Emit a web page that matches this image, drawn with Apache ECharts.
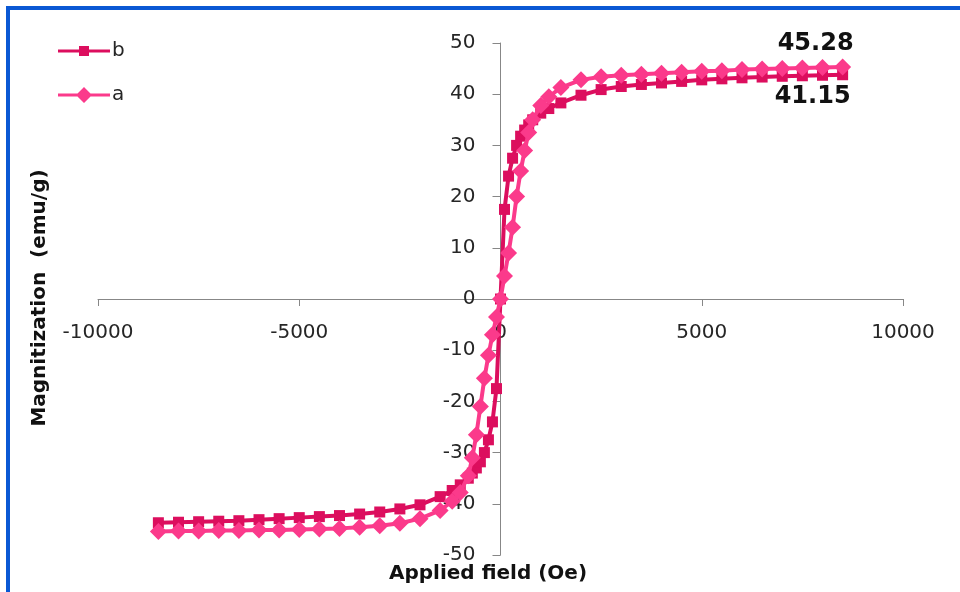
<!DOCTYPE html>
<html>
<head>
<meta charset="utf-8">
<script src="https://cdn.jsdelivr.net/npm/echarts@6/dist/echarts.min.js"></script>
<style>html,body{margin:0;padding:0;background:#fff;}#chart{width:960px;height:592px;}</style>
</head>
<body>
<div id="chart"></div>
<script>
const fieldOe = [-8500,-8000,-7500,-7000,-6500,-6000,-5500,-5000,-4500,-4000,-3500,-3000,-2500,-2000,-1500,-1200,-1000,-800,-700,-600,-500,-400,-300,-200,-100,0,100,200,300,400,500,600,700,800,1000,1200,1500,2000,2500,3000,3500,4000,4500,5000,5500,6000,6500,7000,7500,8000,8500];
const magB = [-43.7,-43.6,-43.5,-43.4,-43.3,-43.1,-42.9,-42.7,-42.5,-42.3,-42.0,-41.6,-41.0,-40.2,-38.6,-37.4,-36.3,-35.0,-34.0,-33.0,-31.8,-30.0,-27.5,-24.0,-17.5,0,17.5,24.0,27.5,30.0,31.8,33.0,34.0,35.0,36.3,37.2,38.3,39.8,40.9,41.5,41.9,42.2,42.5,42.8,43.0,43.2,43.35,43.5,43.6,43.7,43.8];
const magA = [-45.4,-45.3,-45.3,-45.2,-45.2,-45.1,-45.1,-45.0,-44.9,-44.8,-44.6,-44.3,-43.8,-42.9,-41.3,-39.5,-37.8,-34.5,-31.0,-26.5,-21.0,-15.5,-11.0,-7.0,-3.5,0,4.5,9.0,14.0,20.0,25.0,29.0,32.5,35.0,37.8,39.5,41.3,42.8,43.4,43.7,43.9,44.1,44.3,44.5,44.6,44.8,44.9,45.0,45.1,45.2,45.3];
const seriesNames = ['b', 'a'];
const endLabelB = '41.15';
const endLabelA = '45.28';
const xTicks = [-10000, -5000, 0, 5000, 10000];
const yTicks = [-50, -40, -30, -20, -10, 0, 10, 20, 30, 40, 50];

const colorB = '#dc0e5e';
const colorA = '#fb3a8b';

function build(vals, endText, labelOpt) {
  return fieldOe.map((x, i) => {
    if (i === fieldOe.length - 1) {
      return { value: [x, vals[i]], label: Object.assign({ show: true, formatter: endText }, labelOpt) };
    }
    return [x, vals[i]];
  });
}

const gridLeft = 98, gridRight = 57, gridTop = 43, gridBottom = 37;
const W = 960, H = 592;
const gridW = W - gridLeft - gridRight, gridH = H - gridTop - gridBottom;
const xMin = xTicks[0], xMax = xTicks[xTicks.length - 1];
const yMin = yTicks[0], yMax = yTicks[yTicks.length - 1];
// shift axes so they cross at the origin (labels follow the axis line)
const xAxisOffset = -gridH * (0 - yMin) / (yMax - yMin);
const yAxisOffset = -gridW * (0 - xMin) / (xMax - xMin);

// legend icons: line with square / diamond marker
const iconB = 'path://M0,6.5H21V3H31V6.5H52V9.5H31V13H21V9.5H0Z';
const iconA = 'path://M0,6.5H19.5L26,0L32.5,6.5H52V9.5H32.5L26,16L19.5,9.5H0Z';

const chart = echarts.init(document.getElementById('chart'));
const tickFont = { fontFamily: 'DejaVu Sans', fontSize: 20, color: '#262626', formatter: v => String(v) };
chart.setOption({
  animation: false,
  backgroundColor: '#ffffff',
  grid: { left: gridLeft, right: gridRight, top: gridTop, bottom: gridBottom, containLabel: false },
  legend: {
    orient: 'vertical', left: 53, top: 36, itemWidth: 52, itemHeight: 16, itemGap: 24,
    textStyle: { fontFamily: 'DejaVu Sans', fontSize: 20, color: '#262626', padding: [0,0,0,-3] },
    data: [
      { name: seriesNames[0], icon: iconB, itemStyle: { color: colorB } },
      { name: seriesNames[1], icon: iconA, itemStyle: { color: colorA } }
    ]
  },
  xAxis: {
    type: 'value', min: xMin, max: xMax, interval: 5000, position: 'bottom', offset: xAxisOffset,
    axisLine: { onZero: false, lineStyle: { color: '#878787', width: 1 } },
    axisTick: { show: true, length: 7, inside: false, lineStyle: { color: '#878787' } },
    axisLabel: Object.assign({ margin: 24 }, tickFont),
    splitLine: { show: false }
  },
  yAxis: {
    type: 'value', min: yMin, max: yMax, interval: 10, position: 'left', offset: yAxisOffset,
    axisLine: { show: true, onZero: false, lineStyle: { color: '#878787', width: 1 } },
    axisTick: { show: true, length: 8, inside: false, lineStyle: { color: '#878787' } },
    axisLabel: Object.assign({ margin: 25 }, tickFont),
    splitLine: { show: false }
  },
  graphic: [
    { type: 'rect', shape: { x: 6, y: 6, width: 4, height: 600 }, style: { fill: '#0a58d4' }, silent: true },
    { type: 'rect', shape: { x: 6, y: 6, width: 960, height: 4 }, style: { fill: '#0a58d4' }, silent: true },
    { type: 'text', x: 488, y: 574, style: { text: 'Applied field (Oe)', fontFamily: 'DejaVu Sans', fontWeight: 'bold', fontSize: 20, fill: '#111', textAlign: 'center', textVerticalAlign: 'middle' } },
    { type: 'text', x: 40, y: 298, rotation: Math.PI / 2, style: { text: 'Magnitization  (emu/g)', fontFamily: 'DejaVu Sans', fontWeight: 'bold', fontSize: 20, fill: '#111', textAlign: 'center', textVerticalAlign: 'middle' } }
  ],
  series: [
    {
      name: seriesNames[0], type: 'line', data: build(magB, endLabelB, { position: 'bottom', distance: 5, offset: [-30, 0], fontFamily: 'DejaVu Sans', fontWeight: 'bold', fontSize: 24, color: '#111' }),
      symbol: 'rect', symbolSize: 11, showAllSymbol: true,
      lineStyle: { color: colorB, width: 4 }, itemStyle: { color: colorB },
      z: 2
    },
    {
      name: seriesNames[1], type: 'line', data: build(magA, endLabelA, { position: 'top', distance: 3, offset: [-27, 0], fontFamily: 'DejaVu Sans', fontWeight: 'bold', fontSize: 24, color: '#111' }),
      symbol: 'diamond', symbolSize: 17, showAllSymbol: true,
      lineStyle: { color: colorA, width: 4 }, itemStyle: { color: colorA },
      z: 3
    }
  ]
});
</script>
</body>
</html>
